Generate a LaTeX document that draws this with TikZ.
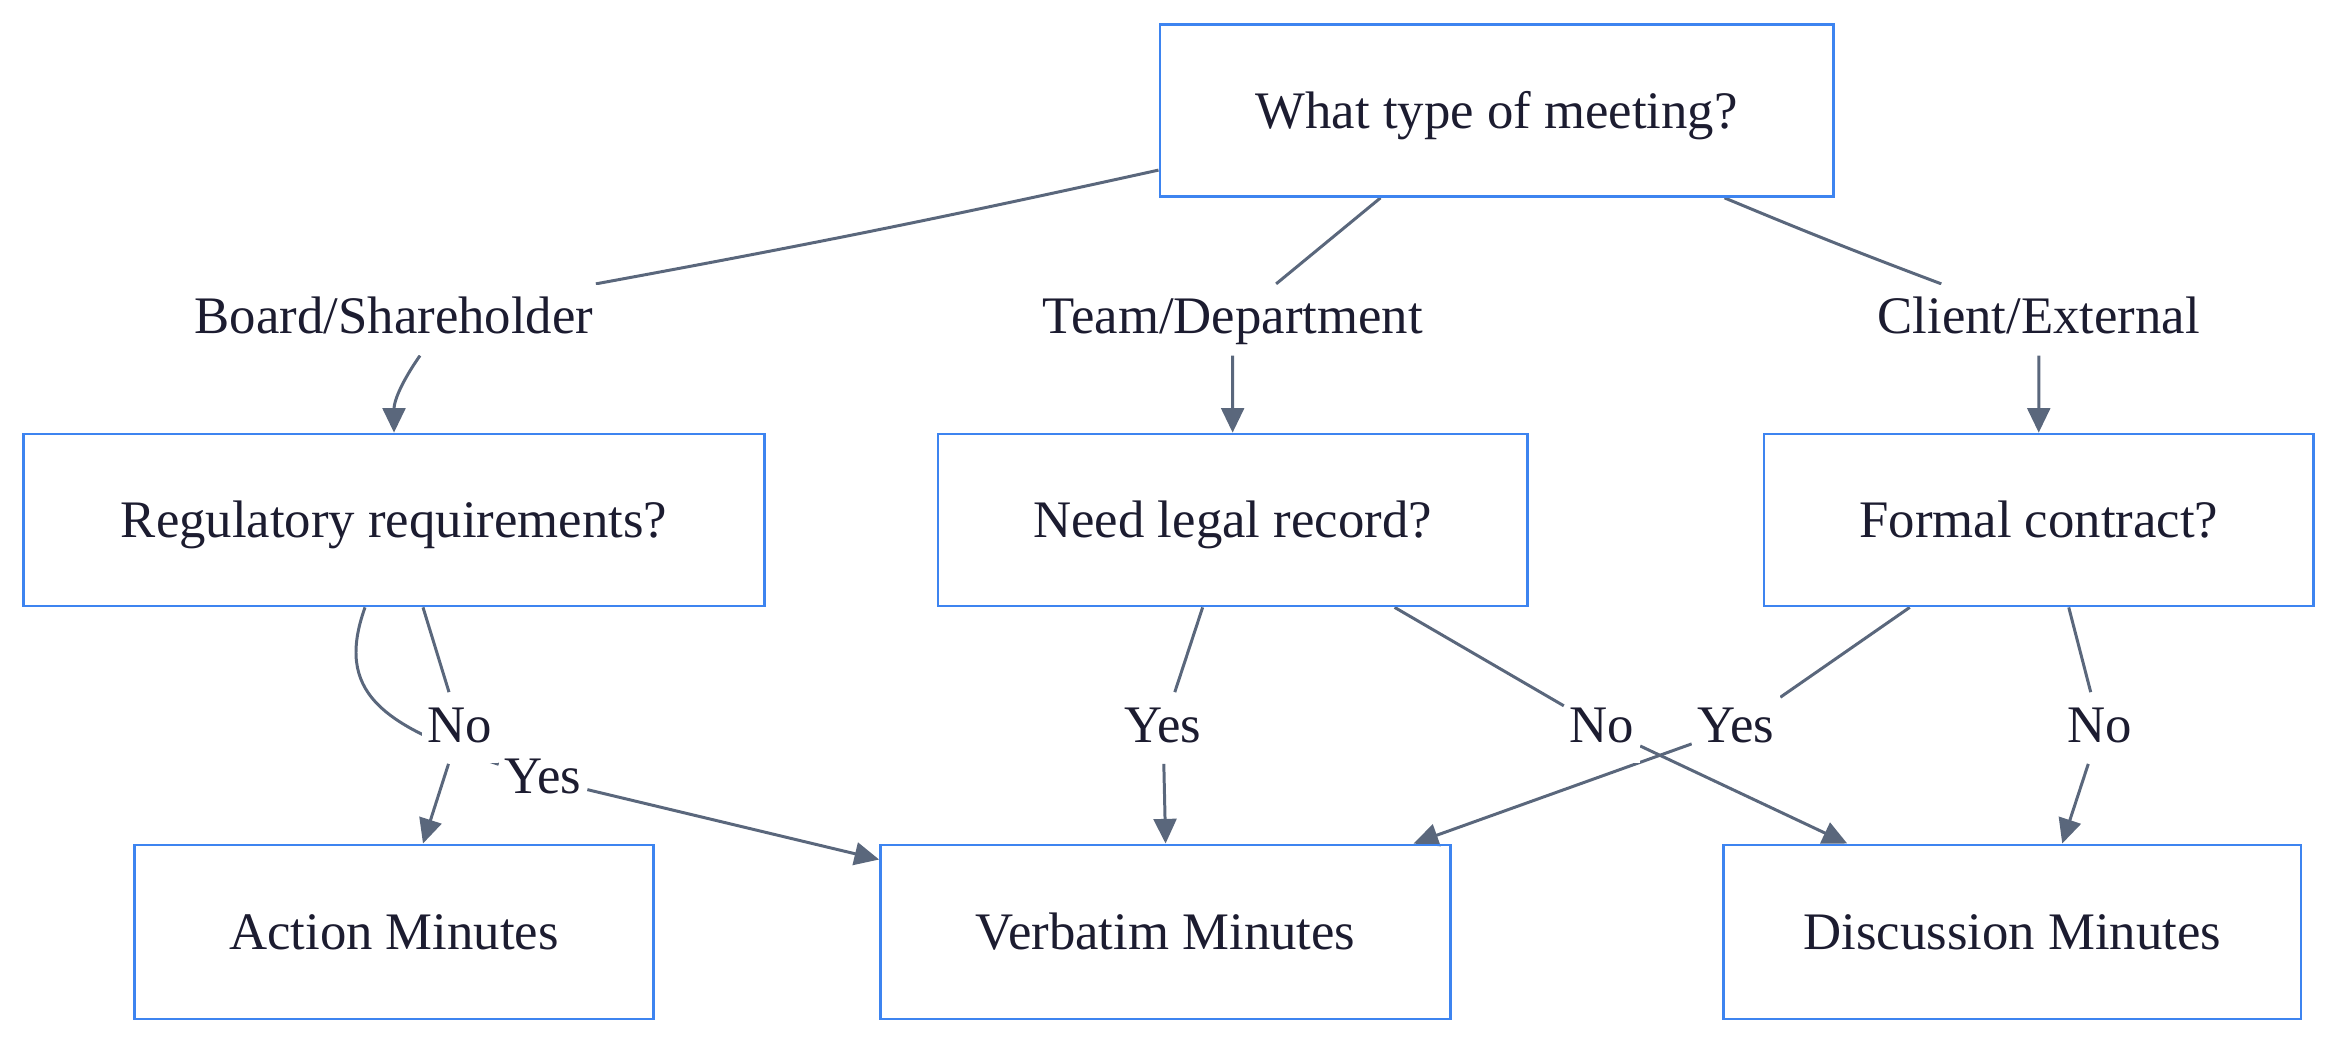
\documentclass[tikz,border=0pt]{standalone}
\usepackage{fontspec}
\setmainfont{Liberation Serif}
\usepackage{xcolor}
\usepackage{tikz}
\usetikzlibrary{arrows.meta, positioning, calc}

\definecolor{boxblue}{HTML}{3D84F0}
\definecolor{edgegray}{HTML}{5A677C}
\definecolor{inkdark}{HTML}{1C1C30}

\pgfdeclarelayer{edges}
\pgfsetlayers{edges,main}

\begin{document}
\begin{tikzpicture}[
    x=0.01cm, y=0.01cm,
    question/.style={rectangle, draw=boxblue, line width=0.75pt, inner xsep=0.4cm, minimum height=1.72cm, text height=13pt, text depth=3pt, text=inkdark, font=\fontsize{15}{18}\selectfont},
    outcome/.style={question, minimum height=1.74cm},
    choice/.style={fill=white, inner xsep=1.5pt, inner ysep=3pt, text height=11pt, text depth=3pt, text=inkdark, font=\fontsize{15}{18}\selectfont},
    arrow/.style={-{Triangle[length=7pt, width=6.5pt]}, draw=edgegray, line width=0.85pt}
]
\useasboundingbox (0,0) rectangle (2352,1041);

\node[question, minimum width=6.73cm] (meet) at (1496.5,930.5) {What type of meeting?};
\node[question, minimum width=7.40cm] (reg) at (394,521) {Regulatory requirements?};
\node[question, minimum width=5.89cm, right=1.71cm of reg] (legal) {Need legal record?};
\node[question, minimum width=5.49cm, right=2.34cm of legal] (contract) {Formal contract?};

\node[outcome, minimum width=5.19cm, below=2.36cm of reg] (action) {Action Minutes};
\node[outcome, minimum width=5.70cm, right=2.24cm of action] (verbatim) {Verbatim Minutes};
\node[outcome, minimum width=5.77cm, right=2.70cm of verbatim] (discussion) {Discussion Minutes};

% meeting types
\node[choice, above=0.77cm of reg] (board) {Board/Shareholder};
\node[choice, above=0.77cm of legal] (team) {Team/Department};
\node[choice, above=0.77cm of contract] (client) {Client/External};

% answers
\node[choice] (regno) at (460,313) {No};
\node[choice] (regyes) at (543,262) {Yes};
\node[choice] (legalyes) at (1163,313) {Yes};
\node[choice] (legalno) at (1602,313) {No};
\node[choice] (contractyes) at (1736,313) {Yes};
\node[choice] (contractno) at (2100,313) {No};

\begin{pgfonlayer}{edges}
\draw[arrow] (meet.190) to[bend left=1] (board) ($(board.south)+(26,0)$) to[out=-125, in=90] (reg.north);
\draw[arrow] ($(meet.south)+(-116,0)$) -- (team) -- (legal);
\draw[arrow] ($(meet.south)+(228,0)$) to[bend right=1] (client) (client) -- (contract);

\draw[arrow] ($(reg.south)+(29,0)$) -- (regno) -- ($(action.north)+(29,0)$);
\draw[arrow] ($(reg.south)+(-29,0)$) .. controls +(-30,-84) and +(-163,54) .. (regyes) -- ($(verbatim.north west)+(0,-16)$);

\draw[arrow] ($(legal.south)+(-30,0)$) -- (legalyes) -- (verbatim.north);
\draw[arrow] ($(legal.south)+(162,0)$) -- (legalno) -- ($(discussion.north)+(-165,0)$);

\draw[arrow] ($(contract.south)+(-129,0)$) -- (contractyes) -- ($(verbatim.north)+(248,0)$);
\draw[arrow] ($(contract.south)+(30,0)$) -- (contractno) -- ($(discussion.north)+(50,0)$);
\end{pgfonlayer}

\end{tikzpicture}
\end{document}
